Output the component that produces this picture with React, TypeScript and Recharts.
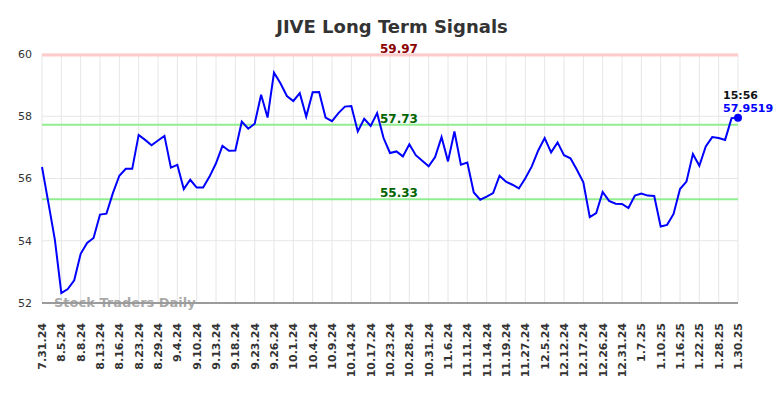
import React from "react"
import { LineChart, Line, XAxis, YAxis, CartesianGrid, ReferenceLine } from "recharts"

// one tick label every 3 points
const tickLabels = [
  "7.31.24", "8.5.24", "8.8.24", "8.13.24", "8.16.24", "8.23.24", "8.29.24", "9.4.24",
  "9.10.24", "9.13.24", "9.18.24", "9.23.24", "9.26.24", "10.1.24", "10.4.24", "10.9.24",
  "10.14.24", "10.17.24", "10.23.24", "10.28.24", "10.31.24", "11.6.24", "11.11.24", "11.14.24",
  "11.19.24", "11.27.24", "12.5.24", "12.12.24", "12.17.24", "12.26.24", "12.31.24", "1.7.25",
  "1.10.25", "1.16.25", "1.22.25", "1.28.25", "1.30.25",
]

const prices = [
  56.37, 55.21, 54.03, 52.32, 52.45, 52.73, 53.58, 53.93, 54.09, 54.84,
  54.87, 55.53, 56.09, 56.31, 56.31, 57.4, 57.24, 57.07, 57.22, 57.37,
  56.35, 56.44, 55.66, 55.96, 55.71, 55.71, 56.06, 56.49, 57.05, 56.89,
  56.9, 57.83, 57.6, 57.76, 58.69, 57.96, 59.4, 59.06, 58.65, 58.49,
  58.74, 57.99, 58.77, 58.78, 57.96, 57.84, 58.1, 58.31, 58.33, 57.51,
  57.92, 57.69, 58.1, 57.3, 56.82, 56.87, 56.71, 57.1, 56.75, 56.57,
  56.39, 56.69, 57.33, 56.55, 57.51, 56.44, 56.51, 55.55, 55.32, 55.42,
  55.53, 56.09, 55.9, 55.8, 55.68, 56.01, 56.39, 56.9, 57.3, 56.84,
  57.16, 56.75, 56.65, 56.28, 55.88, 54.76, 54.89, 55.57, 55.28, 55.19,
  55.18, 55.05, 55.45, 55.52, 55.45, 55.44, 54.46, 54.51, 54.86, 55.66,
  55.9, 56.79, 56.41, 57.03, 57.33, 57.3, 57.24, 57.94, 57.9519,
]

const yTicks = [52, 54, 56, 58, 60]
const resistance = 59.97
const upperSignal = 57.73
const lowerSignal = 55.33
const lastTime = "15:56"

const data = prices.map((value, idx) => ({ idx, value }))
const xTicks = tickLabels.map((_, k) => k * 3)
const lastIdx = prices.length - 1

const font = "DejaVu Sans"

const XTick = (props: any) => {
  const { x, y, payload } = props
  return (
    <text
      transform={`translate(${x},${y + 20}) rotate(-90)`}
      textAnchor="end"
      dy="0.35em"
      fontSize={11}
      fontWeight="bold"
      fill="#333"
      fontFamily={font}
    >
      {tickLabels[payload.value / 3]}
    </text>
  )
}

const EndDot = (props: any) => {
  const { cx, cy, index } = props
  if (index !== lastIdx) return <g key={index} />
  return (
    <g key={index}>
      <circle cx={cx} cy={cy} r={4} fill="#0000ff" />
      <text x={cx - 15} y={cy - 19} fontSize={11} fontWeight="bold" fill="#111" fontFamily={font}>
        {lastTime}
      </text>
      <text x={cx - 15} y={cy - 6} fontSize={11} fontWeight="bold" fill="#0000ff" fontFamily={font}>
        {prices[lastIdx]}
      </text>
    </g>
  )
}

const refLabel = (value: number, color: string) => ({
  value: value.toFixed(2),
  position: "top" as const,
  offset: 2,
  dx: 9,
  fill: color,
  fontSize: 12,
  fontWeight: "bold",
  fontFamily: font,
})

export default function App() {
  return (
    <div style={{ position: "absolute", left: 0, top: 0, width: 784, height: 398, background: "#fff" }}>
      <LineChart
        width={784}
        height={398}
        data={data}
        margin={{ top: 54, right: 46, left: 12, bottom: 0 }}
      >
        <CartesianGrid stroke="#e6e6e6" strokeWidth={1} />
        <XAxis
          dataKey="idx"
          type="number"
          domain={[0, lastIdx]}
          ticks={xTicks}
          interval={0}
          height={95}
          tickSize={0}
          tickMargin={0}
          tickLine={false}
          stroke="#444"
          tick={<XTick />}
        />
        <YAxis
          domain={[52, 60]}
          ticks={yTicks}
          width={30}
          axisLine={false}
          tickLine={false}
          tickMargin={4}
          tick={{ fontSize: 11, fill: "#333", fontFamily: font }}
        />
        <ReferenceLine y={resistance} stroke="#ffcccc" strokeWidth={3} label={refLabel(resistance, "#8b0000")} />
        <ReferenceLine y={upperSignal} stroke="#90ee90" strokeWidth={2} label={refLabel(upperSignal, "#006400")} />
        <ReferenceLine y={lowerSignal} stroke="#90ee90" strokeWidth={2} label={refLabel(lowerSignal, "#006400")} />
        <Line
          type="linear"
          dataKey="value"
          stroke="#0000ff"
          strokeWidth={2}
          dot={EndDot}
          activeDot={false}
          isAnimationActive={false}
        />
      </LineChart>
      <svg
        width={784}
        height={398}
        style={{ position: "absolute", left: 0, top: 0, pointerEvents: "none" }}
      >
        <text x={392} y={33} textAnchor="middle" fontSize={18} fontWeight="bold" fill="#333" fontFamily={font}>
          JIVE Long Term Signals
        </text>
        <text x={54} y={307} fontSize={13} fontWeight="bold" fill="#999" fillOpacity={0.85} fontFamily={font}>
          Stock Traders Daily
        </text>
      </svg>
    </div>
  )
}
